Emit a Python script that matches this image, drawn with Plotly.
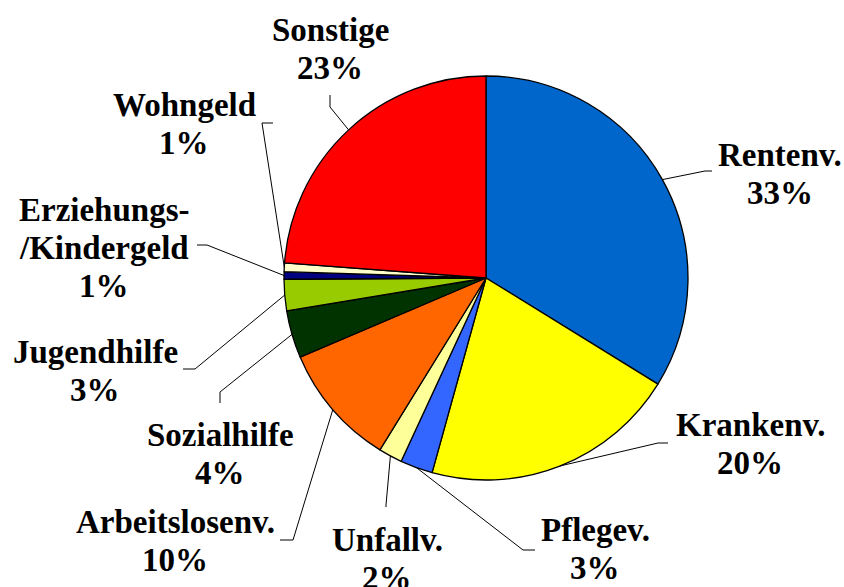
import math
import plotly.graph_objects as go

# ---- data ----
categories = ["Rentenv.", "Krankenv.", "Pflegev.", "Unfallv.", "Arbeitslosenv.",
              "Sozialhilfe", "Jugendhilfe", "Erziehungs-\n/Kindergeld", "Wohngeld", "Sonstige"]
values = [33.8, 20.5, 2.6, 1.9, 9.8, 3.8, 2.5, 0.6, 0.7, 23.8]
pct_labels = ["33%", "20%", "3%", "2%", "10%", "4%", "3%", "1%", "1%", "23%"]
colors = ["#0066CC", "#FFFF00", "#3366FF", "#FFFF99", "#FF6600",
          "#003300", "#99CC00", "#000080", "#FFFFCC", "#FF0000"]

# ---- layout (pixel positions of label blocks and leader elbows) ----
W, H = 844, 587
CX, CY, R = 486, 278, 202
label_xy = [(780, 155), (750, 425), (595, 530), (387, 540), (175, 522),
            (220, 435), (95, 352), (104, 210), (184, 105), (330, 30)]
LINE_H = 38
# (elbow, end) for each leader line
leaders = [((705, 171), (712, 171)), ((658, 443), (668, 443)), ((523, 550), (535, 550)),
           ((386, 505), (386, 507)), ((293, 540), (280, 540)), ((220, 392), (220, 403)),
           ((195, 369), (183, 369)), ((207, 245), (197, 245)), ((262, 123), (273, 123)),
           ((330, 107), (330, 95))]

fig = go.Figure()
fig.add_trace(go.Pie(
    values=values, labels=[c.replace("\n", " ") for c in categories],
    marker=dict(colors=colors, line=dict(color="black", width=1.3)),
    sort=False, direction="clockwise", rotation=0,
    textinfo="none", showlegend=False, hoverinfo="label+percent",
    domain=dict(x=[(CX - R) / W, (CX + R) / W], y=[(H - CY - R) / H, (H - CY + R) / H]),
))

total = sum(values)
cum = 0.0
shapes = []
annotations = []
for i, v in enumerate(values):
    mid = (cum + v / 2) / total * 2 * math.pi
    cum += v
    ax = CX + R * math.sin(mid)
    ay = CY - R * math.cos(mid)
    (ex, ey), (tx, ty) = leaders[i]
    shapes.append(dict(type="path", xref="x", yref="y",
                       path=f"M {ax:.1f},{ay:.1f} L {ex},{ey} L {tx},{ty}",
                       line=dict(color="black", width=1)))
    lines = categories[i].split("\n") + [pct_labels[i]]
    lx, ly = label_xy[i]
    for j, t in enumerate(lines):
        annotations.append(dict(x=lx, y=ly + j * LINE_H, xref="x", yref="y", text=t,
                                showarrow=False, xanchor="center", yanchor="middle",
                                font=dict(family="Liberation Serif", size=33, color="black",
                                          weight="bold")))

fig.update_layout(
    width=W, height=H, margin=dict(l=0, r=0, t=0, b=0),
    paper_bgcolor="white", plot_bgcolor="rgba(0,0,0,0)",
    xaxis=dict(range=[0, W], visible=False, domain=[0, 1], fixedrange=True),
    yaxis=dict(range=[H, 0], visible=False, domain=[0, 1], fixedrange=True),
    shapes=shapes, annotations=annotations,
)
fig.write_html("out.html", config={"displayModeBar": False},
               post_script="document.body.style.margin='0';")
